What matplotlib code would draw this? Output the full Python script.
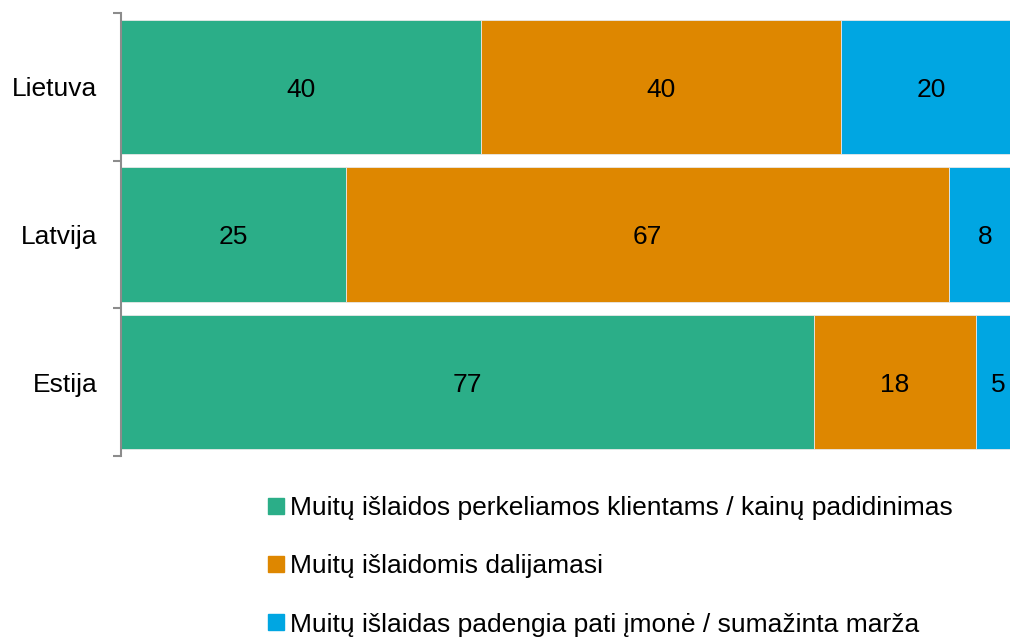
import matplotlib.pyplot as plt
from matplotlib.lines import Line2D

plt.rcParams['font.family'] = ['Liberation Sans', 'DejaVu Sans']

salys = ['Lietuva', 'Latvija', 'Estija']
perkelia = [40, 25, 77]
dalijasi = [40, 67, 18]
padengia = [20, 8, 5]
etiketes = ['Muitų išlaidos perkeliamos klientams / kainų padidinimas',
            'Muitų išlaidomis dalijamasi',
            'Muitų išlaidas padengia pati įmonė / sumažinta marža']
spalvos = ['#2bae88', '#de8700', '#00a6e2']

fig = plt.figure(figsize=(10.1, 6.4), dpi=100)
ax = fig.add_axes([121 / 1010, 1 - 456 / 640, 900 / 1010, 443 / 640])

y = list(range(len(salys)))
kaire = [0] * len(salys)
for reiksmes, spalva in zip([perkelia, dalijasi, padengia], spalvos):
    ax.barh(y, reiksmes, left=kaire, height=0.91, color=spalva,
            edgecolor='#e8e8e8', linewidth=0.6)
    for i, v in enumerate(reiksmes):
        ax.text(kaire[i] + v / 2, i + 0.02, str(v), ha='center', va='center',
                fontsize=19, color='black')
    kaire = [k + v for k, v in zip(kaire, reiksmes)]

ax.set_xlim(0, 100)
ax.set_ylim(2.5, -0.5)
ax.set_yticks(y)
ax.set_yticklabels(salys, fontsize=19)
ax.set_yticks([-0.5, 0.5, 1.5, 2.5], minor=True)
ax.tick_params(axis='y', which='major', length=0, pad=17)
ax.tick_params(axis='y', which='minor', length=6, width=1.5, color='#8c8c8c')
ax.set_xticks([])
for s in ['top', 'right', 'bottom']:
    ax.spines[s].set_visible(False)
ax.spines['left'].set_color('#8c8c8c')
ax.spines['left'].set_linewidth(1.5)

rankenos = [Line2D([], [], marker='s', linestyle='none', markersize=11,
                   markerfacecolor=c, markeredgecolor=c) for c in spalvos]
fig.legend(rankenos, etiketes, loc='upper left', bbox_to_anchor=(268 / 1010, 1 - 496 / 640),
           frameon=False, fontsize=19, labelspacing=1.3, handlelength=0.6,
           handletextpad=0.25, borderpad=0, borderaxespad=0)

fig.savefig('out.png', dpi=100)
